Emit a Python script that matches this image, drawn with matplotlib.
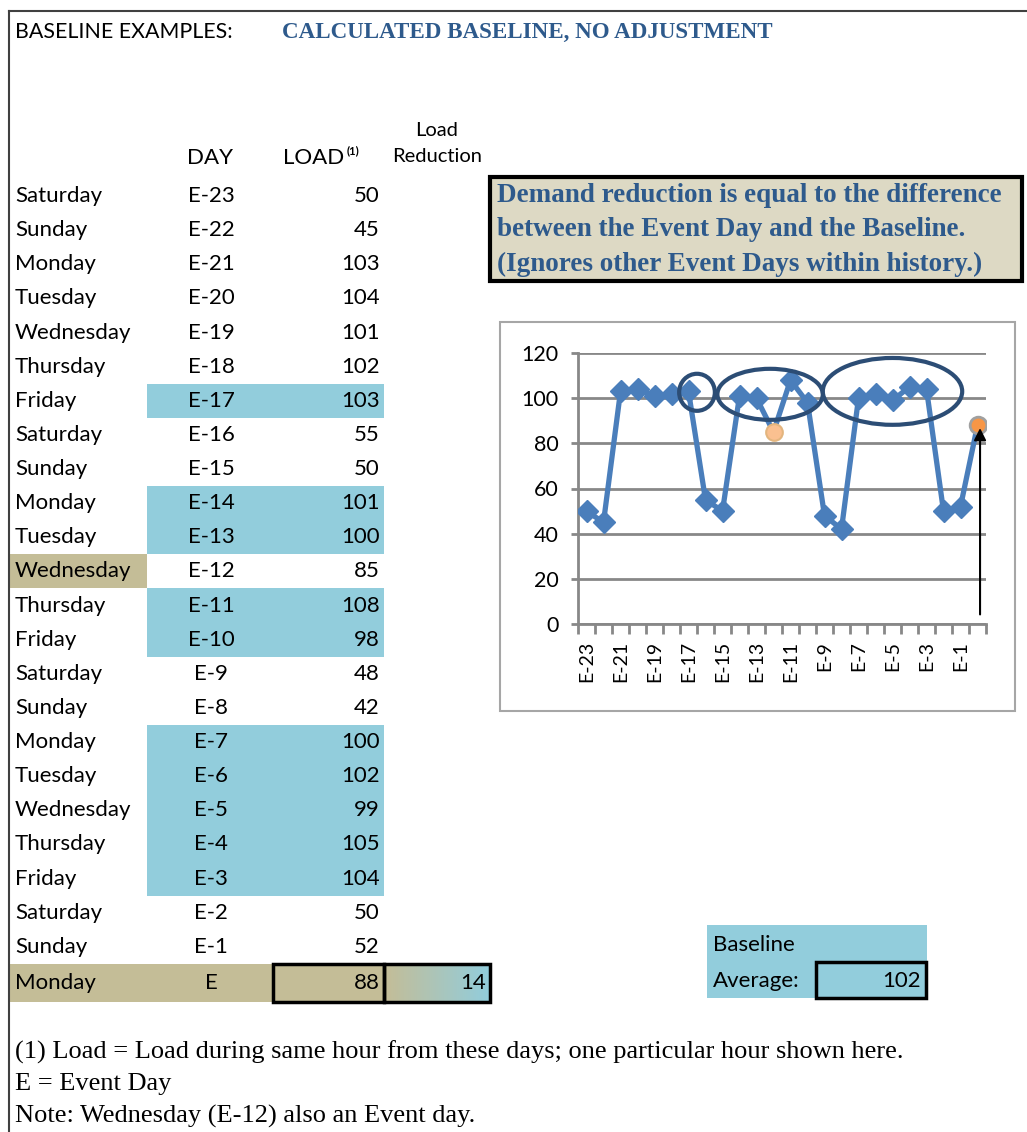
import numpy as np
import matplotlib
matplotlib.use("Agg")
import matplotlib.pyplot as plt
from matplotlib.patches import Rectangle, Ellipse
from matplotlib.colors import LinearSegmentedColormap

# ---- data ----
weekdays = ["Saturday", "Sunday", "Monday", "Tuesday", "Wednesday", "Thursday",
            "Friday", "Saturday", "Sunday", "Monday", "Tuesday", "Wednesday",
            "Thursday", "Friday", "Saturday", "Sunday", "Monday", "Tuesday",
            "Wednesday", "Thursday", "Friday", "Saturday", "Sunday", "Monday"]
day_labels = ["E-23", "E-22", "E-21", "E-20", "E-19", "E-18", "E-17", "E-16",
              "E-15", "E-14", "E-13", "E-12", "E-11", "E-10", "E-9", "E-8",
              "E-7", "E-6", "E-5", "E-4", "E-3", "E-2", "E-1", "E"]
loads = [50, 45, 103, 104, 101, 102, 103, 55, 50, 101, 100, 85,
         108, 98, 48, 42, 100, 102, 99, 105, 104, 50, 52, 88]
baseline_days = ["E-17", "E-14", "E-13", "E-11", "E-10",
                 "E-7", "E-6", "E-5", "E-4", "E-3"]
event_days = ["E-12", "E"]
baseline_avg = 102
load_reduction = 14
y_ticks = [0, 20, 40, 60, 80, 100, 120]

# ellipses drawn on the chart: (centre category, centre value, width in days, height)
ellipses = [(6.5, 102.6, 2.1, 16.4), (10.8, 101.7, 6.2, 22.6), (18.0, 103.0, 8.2, 29.6)]

BLUE_CELL = "#92CDDC"
TAN = "#C4BD97"
LIGHT_TAN = "#DDD9C4"
NAVY = "#2E5A8C"
LINE = "#4A7EBB"
GRID = "#888888"
SANS = "Lato"
SERIF = "Liberation Serif"
FS = 16

W, H = 1027, 1132
fig = plt.figure(figsize=(W / 100, H / 100), dpi=100)
ax = fig.add_axes([0, 0, 1, 1])
ax.set_xlim(0, W)
ax.set_ylim(H, 0)
ax.axis("off")

# sheet frame
ax.plot([9, W], [11, 11], color="#404040", lw=1.5)
ax.plot([9, 9], [11, H], color="#404040", lw=1.5)

ax.text(15, 32, "BASELINE EXAMPLES:", fontsize=15.4, family=SANS, va="center")
ax.text(282, 32, "CALCULATED BASELINE, NO ADJUSTMENT", fontsize=16.6,
        family=SERIF, weight="bold", color=NAVY, va="center")

# header
ax.text(437, 130, "Load", fontsize=14.5, family=SANS, ha="center", va="center")
ax.text(437, 157, "Reduction", fontsize=14.5, family=SANS, ha="center", va="center")
ax.text(210, 158, "DAY", fontsize=FS, family=SANS, ha="center", va="center")
ax.text(344, 158, "LOAD", fontsize=FS, family=SANS, ha="right", va="center")
ax.text(347, 151, "(1)", fontsize=8, family=SANS, weight="bold", ha="left", va="center")

# table rows
row0, row_h = 196, 34.13
for i, (wd, lab, val) in enumerate(zip(weekdays, day_labels, loads)):
    yc = row0 + i * row_h
    top = yc - row_h / 2
    if lab in baseline_days:
        ax.add_patch(Rectangle((147, top), 237, row_h, facecolor=BLUE_CELL, lw=0))
    if lab == "E-12":
        ax.add_patch(Rectangle((10, top), 137, row_h, facecolor=TAN, lw=0))
    if lab == "E":
        ax.add_patch(Rectangle((10, top), 374, row_h + 4, facecolor=TAN, lw=0))
        grad = np.linspace(0, 1, 100)[None, :]
        cm = LinearSegmentedColormap.from_list("tb", [TAN, BLUE_CELL])
        ax.imshow(grad, cmap=cm, aspect="auto", extent=(384, 490, top + row_h + 4, top),
                  zorder=1)
        ax.add_patch(Rectangle((273, top), 111, row_h + 4, facecolor="none",
                               edgecolor="black", lw=2.5, zorder=3))
        ax.add_patch(Rectangle((384, top), 106, row_h + 4, facecolor="none",
                               edgecolor="black", lw=2.5, zorder=3))
        ax.text(486, yc + 2, str(load_reduction), fontsize=FS, family=SANS,
                ha="right", va="center", zorder=4)
        yc += 2
    ax.text(15, yc, wd, fontsize=FS, family=SANS, va="center", zorder=4)
    ax.text(211, yc, lab, fontsize=FS, family=SANS, ha="center", va="center", zorder=4)
    ax.text(380, yc, str(val), fontsize=FS, family=SANS, ha="right", va="center", zorder=4)
ax.set_xlim(0, W)
ax.set_ylim(H, 0)

# explanation box
ax.add_patch(Rectangle((490, 177), 532, 104, facecolor=LIGHT_TAN, edgecolor="black", lw=3))
for k, line in enumerate(["Demand reduction is equal to the difference",
                          "between the Event Day and the Baseline.",
                          "(Ignores other Event Days within history.)"]):
    ax.text(497, 195 + k * 34.5, line, fontsize=19.5, family=SERIF, weight="bold",
            color=NAVY, va="center")

# baseline average box
ax.add_patch(Rectangle((707, 925), 220, 73, facecolor=BLUE_CELL, lw=0))
ax.add_patch(Rectangle((816, 962), 110, 36, facecolor="none", edgecolor="black", lw=2.5))
ax.text(713, 945, "Baseline", fontsize=FS, family=SANS, va="center")
ax.text(713, 981, "Average:", fontsize=FS, family=SANS, va="center")
ax.text(921, 981, str(baseline_avg), fontsize=FS, family=SANS, ha="right", va="center")

# footnotes
for k, line in enumerate(["(1) Load = Load during same hour from these days; one particular hour shown here.",
                          "E = Event Day",
                          "Note: Wednesday (E-12) also an Event day."]):
    ax.text(15, 1052 + k * 32, line, fontsize=19, family=SERIF, va="center")

# chart frame
ax.add_patch(Rectangle((500, 322), 515, 389, facecolor="white", edgecolor="#A6A6A6", lw=1.5))

# ---- embedded line chart ----
cax = fig.add_axes([578 / W, 1 - 624 / H, 408 / W, (624 - 353) / H])
cax.set_facecolor("none")
x = np.arange(len(loads))
cax.plot(x, loads, color=LINE, lw=3.8, zorder=3)
base_idx = [i for i, l in enumerate(day_labels) if l not in event_days]
cax.plot(x[base_idx], np.array(loads)[base_idx], "D", color=LINE, ms=11.5, zorder=4)
ev_idx = [day_labels.index(l) for l in event_days]
cax.plot(x[ev_idx[0]], loads[ev_idx[0]], "o", ms=12, mfc="#FAC090", mec="#E3B57E",
         mew=1.5, zorder=5)
cax.plot(x[ev_idx[1]], loads[ev_idx[1]], "o", ms=12, mfc="#F79646", mec="#A0A0A0",
         mew=2, zorder=5)
for cx, cy, ew, eh in ellipses:
    cax.add_patch(Ellipse((cx, cy), ew, eh, facecolor="none", edgecolor="#2C4D75",
                          lw=3, zorder=6, clip_on=False))
cax.annotate("", xy=(23.15, loads[-1]), xytext=(23.15, 3),
             arrowprops=dict(arrowstyle="-|>", color="black", lw=1.5, mutation_scale=18),
             zorder=7)

cax.set_xlim(-0.5, len(loads) - 0.5)
cax.set_ylim(0, 120)
cax.set_yticks(y_ticks)
cax.set_yticklabels([str(v) for v in y_ticks], fontsize=15.5, family=SANS)
cax.set_xticks(x[:-1:2])
cax.set_xticklabels(day_labels[:-1:2], rotation=90, fontsize=14, family=SANS)
cax.set_xticks(np.arange(-0.5, len(loads)), minor=True)
cax.tick_params(axis="x", which="major", length=0, pad=12)
cax.tick_params(axis="x", which="minor", length=7, width=2, color=GRID)
cax.tick_params(axis="y", length=5, width=2, color=GRID, pad=9)
cax.grid(axis="y", color=GRID, lw=2)
cax.set_axisbelow(True)
for s in ["top", "right"]:
    cax.spines[s].set_visible(False)
for s in ["left", "bottom"]:
    cax.spines[s].set_color(GRID)
    cax.spines[s].set_linewidth(2)

fig.savefig("out.png", dpi=100)
